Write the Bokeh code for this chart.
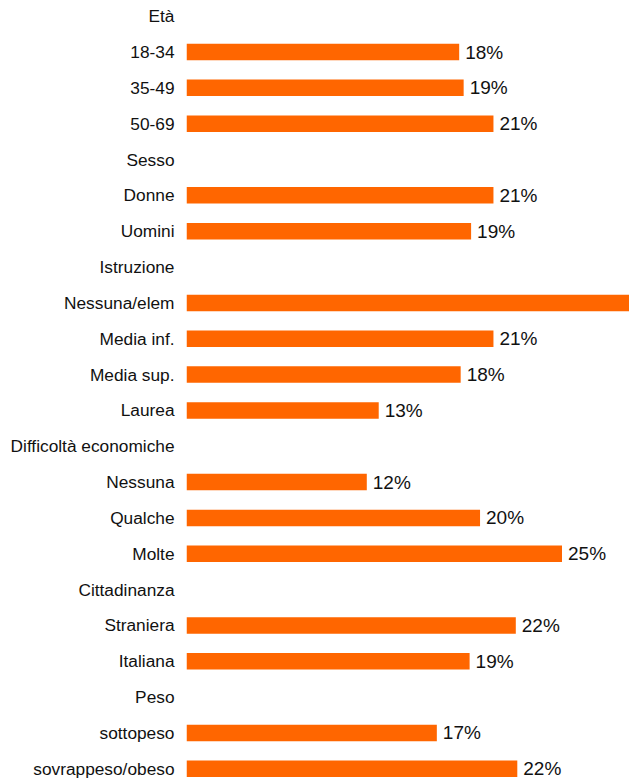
from bokeh.plotting import figure
from bokeh.models import ColumnDataSource, Range1d, FixedTicker
from bokeh.core.properties import value
from bokeh.embed import file_html
from bokeh.resources import INLINE

# ---- data ----
row_labels = ["Età", "18-34", "35-49", "50-69",
              "Sesso", "Donne", "Uomini",
              "Istruzione", "Nessuna/elem", "Media inf.", "Media sup.", "Laurea",
              "Difficoltà economiche", "Nessuna", "Qualche", "Molte",
              "Cittadinanza", "Straniera", "Italiana",
              "Peso", "sottopeso", "sovrappeso/obeso"]
row_values = [None, 18.3, 18.6, 20.6,
              None, 20.6, 19.1,
              None, 31.0, 20.6, 18.4, 12.9,
              None, 12.1, 19.7, 25.2,
              None, 22.1, 19.0,
              None, 16.8, 22.2]
# the label of the bar that runs past the right edge is not visible in the chart
value_texts = ["", "18%", "19%", "21%",
               "", "21%", "19%",
               "", "", "21%", "18%", "13%",
               "", "12%", "20%", "25%",
               "", "22%", "19%",
               "", "17%", "22%"]

pos = list(range(len(row_labels)))
bar_y = [i for i, v in zip(pos, row_values) if v is not None]
bar_x = [v for v in row_values if v is not None]
bar_t = [t for t, v in zip(value_texts, row_values) if v is not None]
src = ColumnDataSource(data=dict(y=bar_y, x=bar_x, t=bar_t))

FONT = "Liberation Sans"
TXT = "#111111"

p = figure(width=629, height=778, output_backend="svg", toolbar_location=None,
           x_range=Range1d(0, 29.73), y_range=Range1d(21.27, -0.437),
           min_border_left=186, min_border_right=0, min_border_top=0, min_border_bottom=0)
p.outline_line_color = None
p.xgrid.visible = False
p.ygrid.visible = False
p.xaxis.visible = False

p.hbar(y="y", left=0, right="x", height=0.46, source=src,
       fill_color="#FF6600", line_color=None)
p.text(x="x", y="y", text="t", source=src, x_offset=6,
       text_align="left", text_baseline="middle",
       text_font=value(FONT), text_font_size="19px", text_color=TXT)

ya = p.yaxis[0]
ya.ticker = FixedTicker(ticks=pos)
ya.major_label_overrides = {i: lab for i, lab in zip(pos, row_labels)}
ya.axis_line_color = None
ya.major_tick_line_color = None
ya.minor_tick_line_color = None
ya.major_tick_out = 0
ya.major_tick_in = 0
ya.major_label_standoff = 12
ya.major_label_text_font = FONT
ya.major_label_text_font_size = "17.3px"
ya.major_label_text_color = TXT

open("out.html", "w").write(file_html(p, INLINE))
